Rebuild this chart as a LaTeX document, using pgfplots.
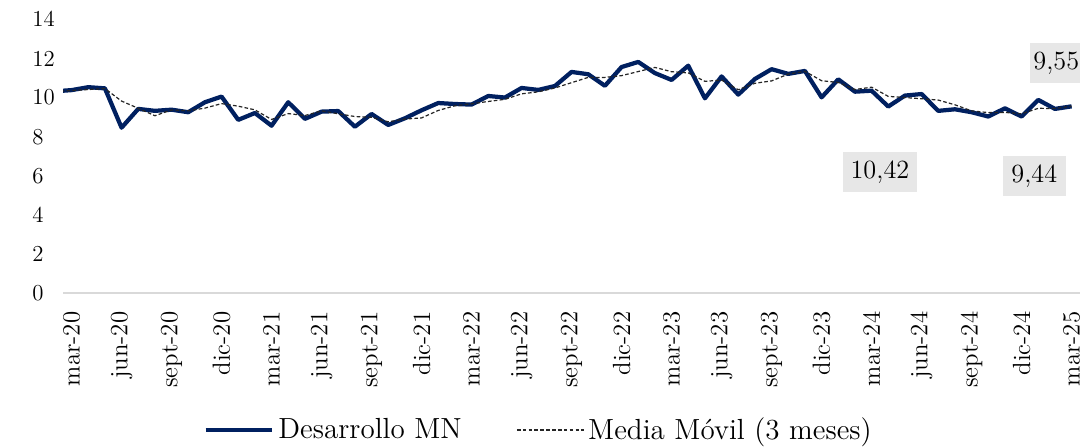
\documentclass[border=0pt]{standalone}
\usepackage{fontspec}
\usepackage{pgfplots}
\pgfplotsset{compat=1.18}
\definecolor{navy}{RGB}{0,32,96}
\definecolor{boxgray}{RGB}{231,231,231}
\definecolor{axgray}{RGB}{217,217,217}
\begin{document}
\begin{tikzpicture}
\begin{axis}[
  name=ax,
  scale only axis, width=503.3pt, height=135.6pt,
  xmin=-0.5, xmax=60.5, ymin=0, ymax=14,
  axis x line*=bottom, axis y line*=left,
  y axis line style={draw=none},
  x axis line style={axgray, line width=0.75pt},
  major tick length=0pt,
  xtick={0,3,...,60},
  xticklabels={mar-20,jun-20,sept-20,dic-20,mar-21,jun-21,sept-21,dic-21,mar-22,jun-22,sept-22,dic-22,mar-23,jun-23,sept-23,dic-23,mar-24,jun-24,sept-24,dic-24,mar-25},
  ytick={0,2,...,14},
  /pgf/number format/assume math mode=true,
  xticklabel shift=9pt,
  xticklabel style={rotate=90, anchor=east, font=\fontsize{12.3}{13}\selectfont, inner sep=0pt},
  yticklabel style={anchor=west, font=\fontsize{11.3}{12}\selectfont, inner sep=0pt, xshift=-15.5pt},
  legend style={at={(0.4686,-0.4993)}, anchor=center, draw=none, fill=none,
    font=\fontsize{14.4}{16}\selectfont,
    /tikz/every even column/.append style={column sep=25pt}},
  legend columns=2,
  legend cell align=left,
  legend image code/.code={\draw[#1] (0pt,0pt) -- (33pt,0pt);},
]
\addplot[navy, line width=2.1pt, line join=round] coordinates {
(-1,10.32) (0,10.38) (1,10.53) (2,10.47) (3,8.46) (4,9.42) (5,9.32) (6,9.38) (7,9.25) (8,9.76) (9,10.05)
(10,8.86) (11,9.21) (12,8.56) (13,9.76) (14,8.91) (15,9.28) (16,9.31) (17,8.51) (18,9.16) (19,8.60)
(20,8.94) (21,9.35) (22,9.72) (23,9.67) (24,9.64) (25,10.08) (26,10.00) (27,10.49) (28,10.39) (29,10.59)
(30,11.31) (31,11.19) (32,10.60) (33,11.56) (34,11.82) (35,11.25) (36,10.90) (37,11.63) (38,9.96) (39,11.08)
(40,10.15) (41,10.95) (42,11.45) (43,11.21) (44,11.36) (45,10.01) (46,10.93) (47,10.30) (48,10.35) (49,9.54)
(50,10.10) (51,10.18) (52,9.32) (53,9.40) (54,9.25) (55,9.03) (56,9.45) (57,9.03) (58,9.88) (59,9.42) (60,9.55)
};
\addlegendentry{Desarrollo MN}
\addplot[black!85, line width=0.6pt, dash pattern=on 1.8pt off 1.1pt] coordinates {
(-1,10.30) (0,10.36) (1,10.41) (2,10.46) (3,9.82) (4,9.45) (5,9.07) (6,9.37) (7,9.32) (8,9.46) (9,9.69)
(10,9.56) (11,9.37) (12,8.88) (13,9.18) (14,9.08) (15,9.32) (16,9.17) (17,9.03) (18,8.99) (19,8.76)
(20,8.90) (21,8.96) (22,9.34) (23,9.58) (24,9.68) (25,9.80) (26,9.91) (27,10.19) (28,10.29) (29,10.49)
(30,10.76) (31,11.03) (32,11.03) (33,11.12) (34,11.33) (35,11.54) (36,11.32) (37,11.26) (38,10.83) (39,10.89)
(40,10.40) (41,10.73) (42,10.85) (43,11.20) (44,11.34) (45,10.86) (46,10.77) (47,10.41) (48,10.53) (49,10.06)
(50,10.00) (51,9.94) (52,9.87) (53,9.63) (54,9.32) (55,9.23) (56,9.24) (57,9.17) (58,9.45) (59,9.44) (60,9.56)
};
\addlegendentry{Media Móvil (3 meses)}
\node[fill=boxgray, minimum width=37pt, minimum height=20pt, inner sep=0pt, font=\fontsize{13}{14}\selectfont] at (axis cs:48.5,6.2) {10,42};
\node[fill=boxgray, minimum width=31pt, minimum height=20pt, inner sep=0pt, font=\fontsize{13}{14}\selectfont] at (axis cs:57.76,5.99) {9,44};
\node[fill=boxgray, minimum width=26pt, minimum height=20pt, inner sep=0pt, font=\fontsize{13}{14}\selectfont] at (axis cs:59.08,11.77) {9,55};
\end{axis}
\pgfresetboundingbox
\path[use as bounding box] ([shift={(-31.3pt,-76.1pt)}]ax.south west) rectangle ([shift={(3pt,9.55pt)}]ax.north east);
\end{tikzpicture}
\end{document}
